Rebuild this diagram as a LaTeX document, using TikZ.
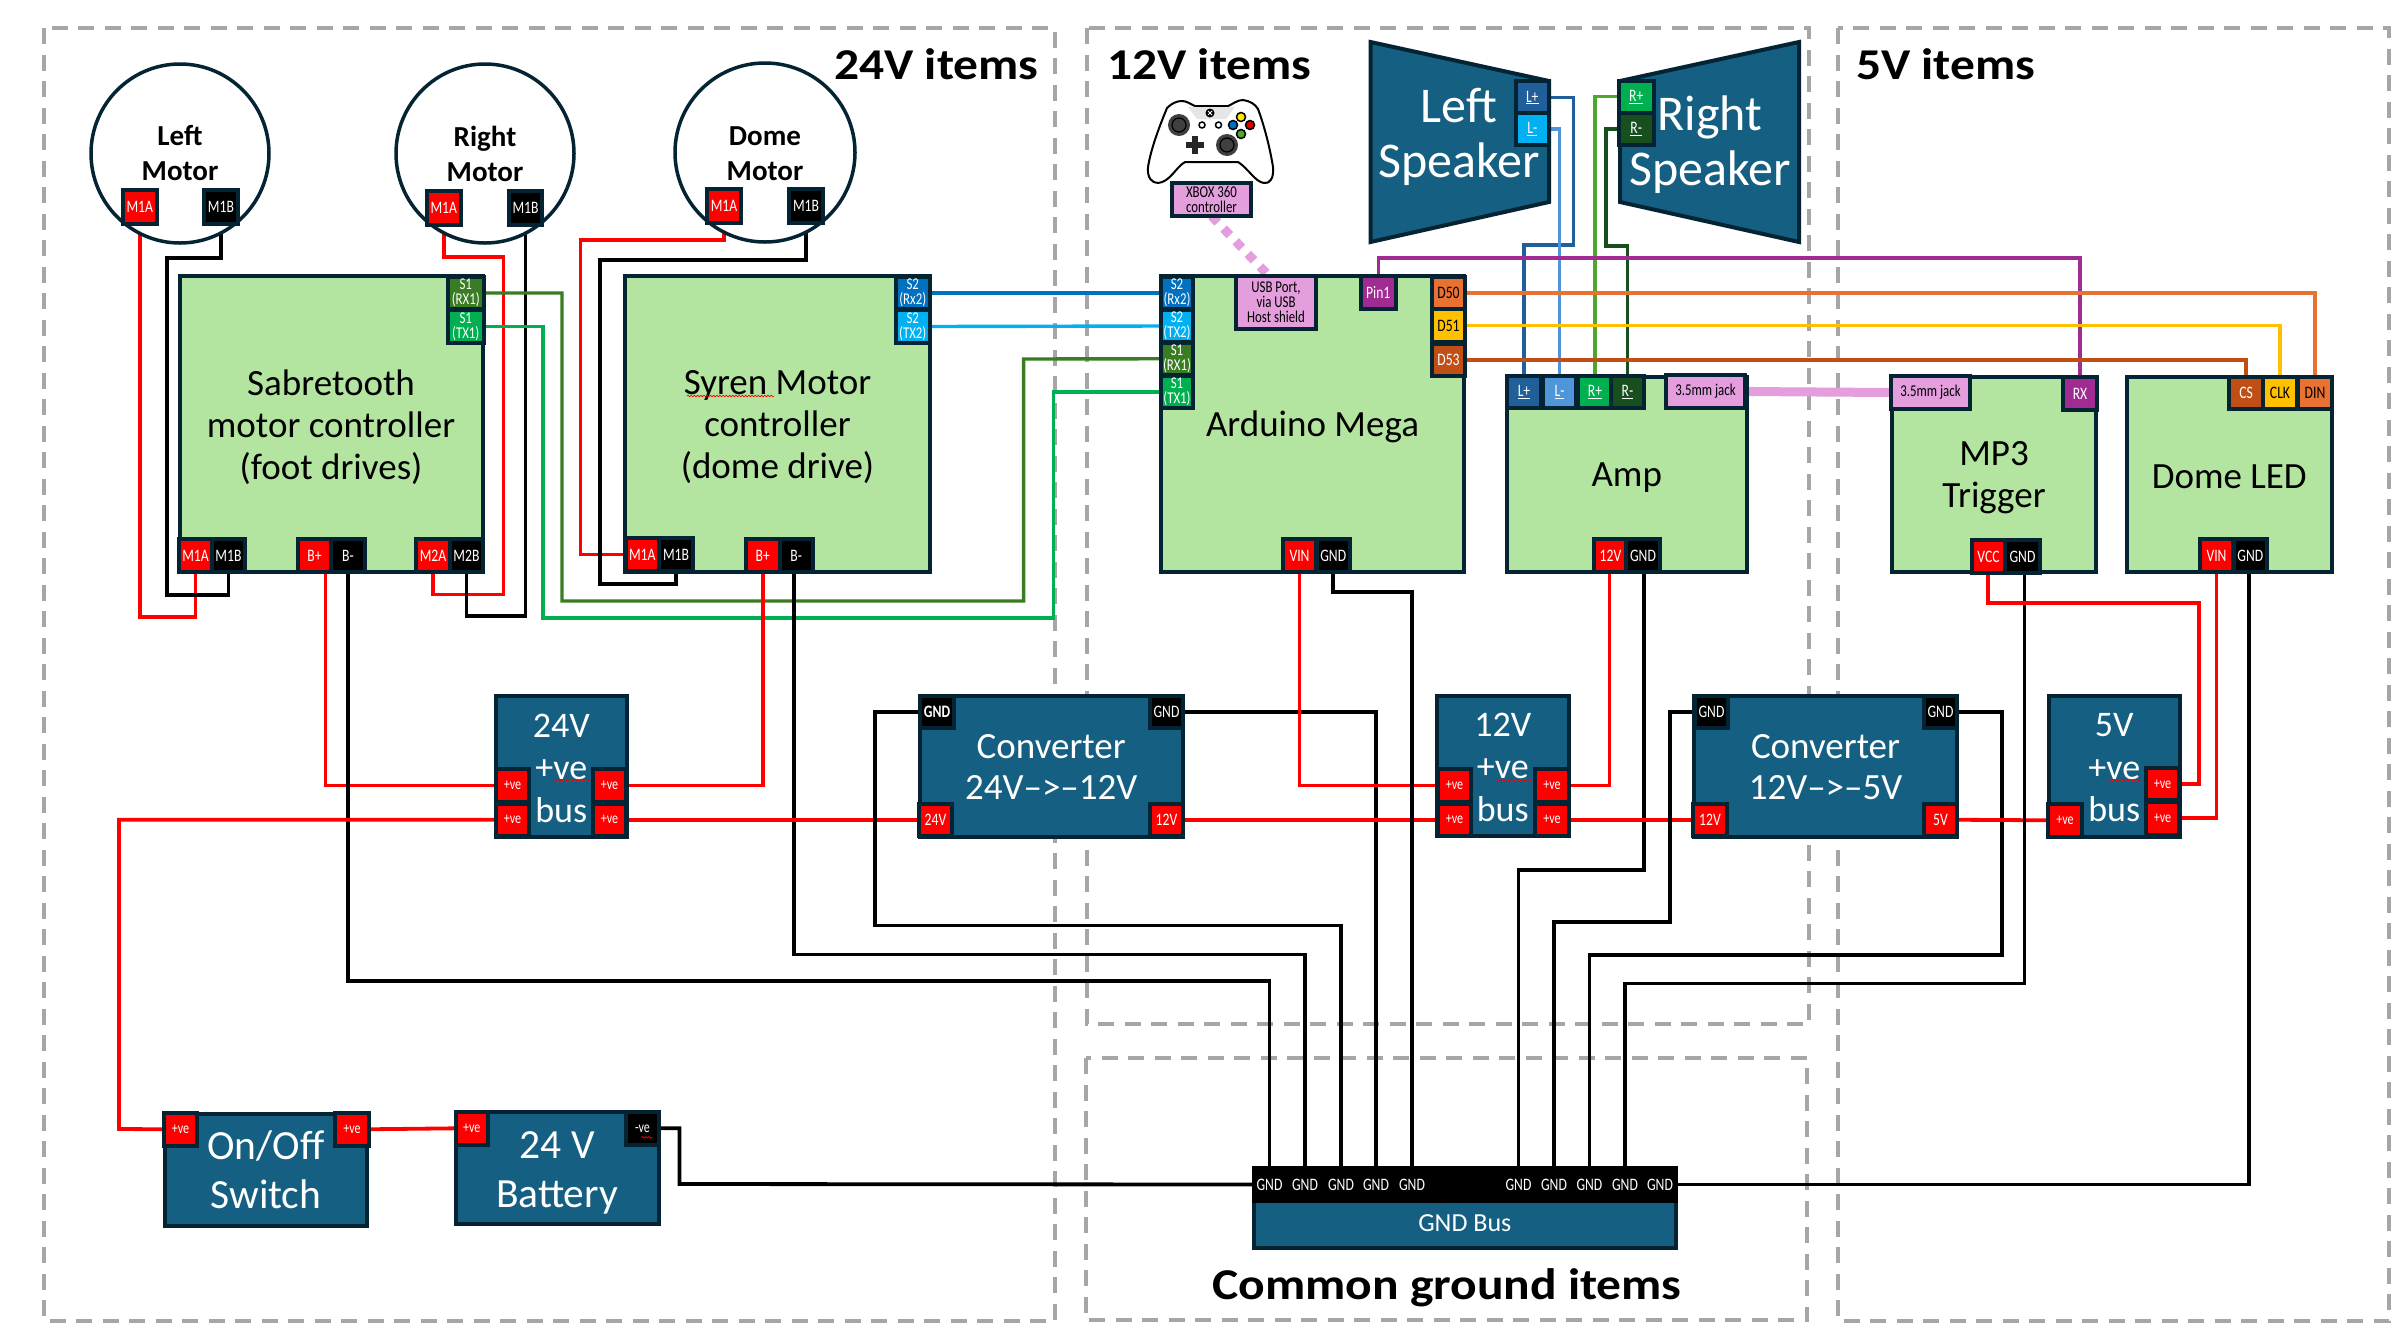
\documentclass[tikz,border=0pt]{standalone}
\usepackage{fontspec}
\setmainfont{Carlito}
\newfontfamily\ttl[FakeStretch=1.125]{Carlito}
\newfontfamily\pf[FakeStretch=.78]{Carlito}
\usetikzlibrary{decorations.pathmorphing,calc,shapes.geometric}
\definecolor{navy}{HTML}{042433}
\definecolor{bluefill}{HTML}{156082}
\definecolor{greenfill}{HTML}{B3E5A1}
\definecolor{pinkc}{HTML}{E49EDD}
\definecolor{purp}{HTML}{A02B93}
\definecolor{oran}{HTML}{E97132}
\definecolor{ambr}{HTML}{FFC000}
\definecolor{rust}{HTML}{C04F15}
\definecolor{dgreen}{HTML}{3A7C22}
\definecolor{mgreen}{HTML}{00B050}
\definecolor{vdgreen}{HTML}{174F1E}
\definecolor{sblue}{HTML}{0070C0}
\definecolor{cyanb}{HTML}{00B0F0}
\definecolor{lblue}{HTML}{215F9A}
\definecolor{mblue}{HTML}{4E95D9}
\definecolor{lgreen}{HTML}{4EA72E}
\definecolor{dashc}{HTML}{A6A6A6}
\newcommand\fa{\pf\fontsize{17.5}{19}\selectfont}
\newcommand\fb{\pf\fontsize{16.5}{15}\selectfont}
\newcommand\fc{\pf\fontsize{15.5}{14}\selectfont}
\newcommand\fbig{\fontsize{37}{42}\selectfont}
\newcommand\fconv{\fontsize{37}{41}\selectfont}
\newcommand\fbus{\fontsize{36}{42.5}\selectfont}
\newcommand\fsw{\fontsize{41.5}{49}\selectfont}
\newcommand\fspk{\fontsize{50}{55}\selectfont}
\newcommand\fmot{\fontsize{29}{35}\bfseries\selectfont}
\newcommand\ftit{\fontsize{44}{50}\ttl\bfseries\selectfont}
\newcommand\ppX{}\newcommand\ppY{}\newcommand\ppW{}\newcommand\ppH{}
% [text colour]{name}{x1}{y1}{x2}{y2}{fill}{font}{text}
\newcommand\pp[9][white]{%
  \pgfmathsetmacro\ppX{(#3+#5)/2}\pgfmathsetmacro\ppY{(#4+#6)/2}%
  \pgfmathsetmacro\ppW{#5-#3+4}\pgfmathsetmacro\ppH{#6-#4+4}%
  \node[portbox,fill=#7,text=#1,font=#8,minimum width=\ppW pt,minimum height=\ppH pt] (#2) at (\ppX,\ppY) {#9};}
% [text shift]{name}{x1}{y1}{x2}{y2}{style}{text}
\newcommand\bx[8][0]{%
  \pgfmathsetmacro\ppX{(#3+#5)/2}\pgfmathsetmacro\ppY{(#4+#6)/2}%
  \pgfmathsetmacro\ppW{#5-#3-4}\pgfmathsetmacro\ppH{#6-#4-4}%
  \node[#7,minimum width=\ppW pt,minimum height=\ppH pt] (#2) at (\ppX,\ppY) {};
  \node[#7,draw=none,fill=none,minimum width=0pt,minimum height=0pt,yshift=#1 pt] (#2t) at (#2.center) {#8};}
\newcommand\sqg[1]{\draw[squig] ([xshift=-1pt,yshift=-9pt]#1.center) -- ([xshift=10pt,yshift=-9pt]#1.center);}
\pgfdeclarelayer{dashlayer}\pgfdeclarelayer{wirelayer}
\pgfsetlayers{dashlayer,wirelayer,main}
\tikzset{
  portbox/.style={draw=navy,line width=4pt,inner sep=0pt,outer sep=0pt,align=center,rectangle},
  gbox/.style={draw=navy,line width=4pt,fill=greenfill,inner sep=0pt,outer sep=0pt,align=center,rectangle,text=black,font=\fbig},
  bbox/.style={draw=navy,line width=4pt,fill=bluefill,inner sep=0pt,outer sep=0pt,align=center,rectangle,text=white,font=\fbus},
  cbox/.style={bbox,font=\fconv},
  sbox/.style={bbox,font=\fsw},
  motor/.style={draw=navy,line width=3.5pt,fill=white,ellipse,inner sep=0pt,outer sep=0pt,align=center,text=black,font=\fmot},
  gndp/.style={fill=black,text=white,font=\fa,inner sep=0pt,outer sep=0pt,minimum width=35.5pt,minimum height=37pt},
  zone/.style={draw=dashc,line width=3.5pt,dash pattern=on 16pt off 10.5pt},
  title/.style={inner sep=0pt,text=black,font=\ftit},
  w/.style={line width=3.8pt,miter limit=10},
  wr/.style={w,draw=red},
  wk/.style={w,draw=black},
  sig/.style={line width=3.4pt,miter limit=10},
  squig/.style={draw=red,line width=.7pt,decorate,decoration={snake,amplitude=.8pt,segment length=3.2pt}},
}
\begin{document}
\begin{tikzpicture}[x=1pt,y=-1pt]
\useasboundingbox (0,0) rectangle (2408,1342);
\begin{pgfonlayer}{dashlayer}
  \fill[white] (0,0) rectangle (2408,1342);
  \draw[zone] (44,28) rectangle (1055,1321);
  \draw[zone] (1087,28) rectangle (1809,1024);
  \draw[zone] (1086,1058) rectangle (1807,1320);
  \draw[zone] (1838,28) rectangle (2389,1321);
\end{pgfonlayer}

\node[title,anchor=west] (t24) at (834,64) {24V items};
\node[title,anchor=west] (t12) at (1107,64) {12V items};
\node[title,anchor=west] (t5) at (1856,64) {5V items};
\node[title,anchor=center] (tg) at (1447,1288) {Common ground items};

% motors
\bx{lm}{89}{62}{271}{245}{motor}{Left\\Motor}
\bx{rm}{394}{62}{576}{245}{motor}{Right\\Motor}
\bx[-1]{dm}{673}{61}{857}{244}{motor}{Dome\\Motor}
\pp{lma}{125}{192}{154.5}{222}{red}{\fa}{M1A}
\pp{lmb}{206}{192}{236}{222}{black}{\fa}{M1B}
\pp{rma}{429}{193}{458.6}{223}{red}{\fa}{M1A}
\pp{rmb}{511}{193}{540}{223}{black}{\fa}{M1B}
\pp{dma}{709}{190.5}{739}{221}{red}{\fa}{M1A}
\pp{dmb}{791}{190.5}{821}{221}{black}{\fa}{M1B}

% Sabretooth
\bx[-3]{sab}{177.5}{274}{484.6}{573.5}{gbox}{Sabretooth\\motor controller\\(foot drives)}
\pp{sa1r}{450}{279}{481.5}{307}{dgreen}{\fb}{S1\\(RX1)}
\pp{sa1t}{450}{312}{481.5}{341}{mgreen}{\fb}{S1\\(TX1)}
\pp{sama}{181}{541}{210}{570}{red}{\fa}{M1A}
\pp{samb}{214}{541}{243}{570}{black}{\fa}{M1B}
\pp{sabp}{300}{541}{329}{570}{red}{\fa}{B+}
\pp{sabm}{333}{541}{363}{570}{black}{\fa}{B-}
\pp{sam2a}{418}{541}{448}{570}{red}{\fa}{M2A}
\pp{sam2b}{452}{541}{481}{570}{black}{\fa}{M2B}

% Syren
\bx[-3]{syr}{623}{274}{932}{573.5}{gbox}{Syren Motor\\controller\\(dome drive)}
\pp{sy2r}{897.5}{279}{928}{307}{sblue}{\fb}{S2\\(Rx2)}
\pp{sy2t}{897.5}{312}{928}{341}{cyanb}{\fb}{S2\\(TX2)}
\pp{syma}{627.5}{540}{657}{569}{red}{\fa}{M1A}
\pp{symb}{661}{540}{691}{569}{black}{\fa}{M1B}
\pp{sybp}{748}{541}{777.5}{570}{red}{\fa}{B+}
\pp{sybm}{781.5}{541}{811}{570}{black}{\fa}{B-}

% Arduino
\bx[-3.5]{ard}{1159}{274}{1466}{573.5}{gbox}{Arduino Mega}
\pp{a2r}{1163}{279}{1191}{307}{sblue}{\fb}{S2\\(Rx2)}
\pp{a2t}{1163}{312}{1191}{340}{cyanb}{\fb}{S2\\(TX2)}
\pp{a1r}{1163}{344.5}{1191}{373}{dgreen}{\fb}{S1\\(RX1)}
\pp{a1t}{1163}{378}{1191}{406}{mgreen}{\fb}{S1\\(TX1)}
\pp[black]{usb}{1238}{278}{1314}{327}{pinkc}{\fb}{USB Port,\\via USB\\Host shield}
\pp{pin1}{1363}{278}{1393.5}{307}{purp}{\fa}{Pin1}
\pp[black]{d50}{1434}{279}{1463}{307}{oran}{\fa}{D50}
\pp[black]{d51}{1434}{311}{1463}{340}{ambr}{\fa}{D51}
\pp{d53}{1434}{346}{1463}{374}{rust}{\fa}{D53}
\pp{avin}{1285}{541}{1314}{570}{red}{\fa}{VIN}
\pp{agnd}{1318.5}{541}{1348}{570}{black}{\fa}{GND}

% XBOX controller
\begin{scope}
  \draw[black,line width=2pt,fill=white,line join=round]
    (1167,108) .. controls (1172,103) and (1177,101) .. (1182,101)
    .. controls (1187,101) and (1190,104) .. (1195,106)
    -- (1228,106) .. controls (1233,104) and (1237,100) .. (1243,100)
    .. controls (1250,101) and (1255,104) .. (1258,109)
    .. controls (1264,125) and (1270,148) .. (1273,167)
    .. controls (1274,178) and (1270,184) .. (1264,183)
    .. controls (1255,182) and (1248,168) .. (1238,162)
    -- (1185,162) .. controls (1176,167) and (1170,182) .. (1158,183)
    .. controls (1152,183) and (1147,178) .. (1148,167)
    .. controls (1151,148) and (1160,125) .. (1167,108) -- cycle;
  \fill[gray!20] (1188,107) -- (1235,107) -- (1226,119) -- (1197,119) -- cycle;
  \fill[black] (1210,113) circle (4.5pt);
  \draw[white,line width=1pt] (1208,111) -- (1212,115) (1212,111) -- (1208,115);
  \foreach \p in {(1179,125),(1227,145)} {
    \fill[black!75] \p circle (11pt);
    \draw[black,line width=1.2pt] \p circle (7pt);
  }
  \draw[black!85,line width=5.5pt] (1186,145) -- (1204,145) (1195,136) -- (1195,154);
  \draw[black,line width=1.5pt,fill=yellow!90!orange] (1241,117) circle (4.5pt);
  \draw[black,line width=1.5pt,fill=sblue] (1233,125) circle (4.5pt);
  \draw[black,line width=1.5pt,fill=red!85!black] (1250,125) circle (4.5pt);
  \draw[black,line width=1.5pt,fill=lgreen] (1241,134) circle (4.5pt);
  \draw[black,line width=1.5pt,fill=white] (1202,125) circle (3pt);
  \draw[black,line width=1.5pt,fill=white] (1218.5,125) circle (3pt);
\end{scope}
\pp[black]{xbp}{1174}{184.5}{1249}{214}{pinkc}{\fb}{XBOX 360\\controller}

% speakers
\draw[draw=navy,line width=4pt,fill=bluefill,miter limit=10] (1370.5,42) -- (1549,81) -- (1549,202) -- (1370.5,242) -- cycle;
\draw[draw=navy,line width=4pt,fill=bluefill,miter limit=10] (1799,42) -- (1620,81) -- (1620,202) -- (1799,242) -- cycle;
\node[text=white,font=\fspk,align=center,inner sep=0pt] (ltxt) at (1459,137) {Left\\Speaker};
\node[text=white,font=\fspk,align=center,inner sep=0pt] (rtxt) at (1710,145) {Right\\Speaker};
\pp{slp}{1517.5}{83}{1547}{112}{lblue}{\fa}{\underline{L+}}
\pp{slm}{1517.5}{115}{1547}{143}{cyanb}{\fa}{\underline{L-}}
\pp{srp}{1621}{83}{1651.5}{110.5}{mgreen}{\fa}{\underline{R+}}
\pp{srm}{1621}{115}{1651.5}{143}{vdgreen}{\fa}{\underline{R-}}

% Amp
\bx[-3.5]{amp}{1505}{375}{1748.5}{573.5}{gbox}{Amp}
\pp{alp}{1509}{378}{1539}{406}{lblue}{\fa}{\underline{L+}}
\pp{alm}{1545}{378}{1574}{406}{mblue}{\fa}{\underline{L-}}
\pp{arp}{1580}{378}{1610}{406}{mgreen}{\fa}{\underline{R+}}
\pp{arm}{1613}{378}{1642}{406}{vdgreen}{\fa}{\underline{R-}}
\pp[black]{ajack}{1668}{377}{1743}{406}{pinkc}{\fb}{3.5mm jack}
\pp{a12}{1596}{541}{1625}{570}{red}{\fa}{12V}
\pp{amg}{1628}{541}{1658}{570}{black}{\fa}{GND}

% MP3
\bx[-3.5]{mp3}{1890}{375}{2098}{573.5}{gbox}{MP3\\Trigger}
\pp[black]{mjack}{1893}{378}{1968}{407}{pinkc}{\fb}{3.5mm jack}
\pp{mrx}{2065}{379}{2095}{408}{purp}{\fa}{RX}
\pp{mvcc}{1974}{542}{2003}{571}{red}{\fa}{VCC}
\pp{mgnd}{2007}{542}{2038}{571}{black}{\fa}{GND}

% Dome LED
\bx[-2]{led}{2125}{375}{2333.5}{573.5}{gbox}{Dome LED}
\pp{lcs}{2231}{379}{2261}{407}{rust}{\fa}{CS}
\pp[black]{lclk}{2265}{379}{2295}{407}{ambr}{\fa}{CLK}
\pp[black]{ldin}{2300}{379}{2330}{407}{oran}{\fa}{DIN}
\pp{lvin}{2202}{541}{2231}{570}{red}{\fa}{VIN}
\pp{lgnd}{2235.6}{541}{2265}{570}{black}{\fa}{GND}

% buses
\bx[-1.5]{b24}{494}{694}{628.5}{839}{bbox}{24V\\+ve\\bus}
\pp{b24a}{498}{771}{527}{800}{red}{\fc}{+ve}
\pp{b24b}{498}{805.5}{527}{834}{red}{\fc}{+ve}
\pp{b24c}{595}{771}{624}{800}{red}{\fc}{+ve}
\pp{b24d}{595}{805.5}{624}{834}{red}{\fc}{+ve}
\bx[-1.5]{b12}{1435}{694}{1570.5}{837.5}{bbox}{12V\\+ve\\bus}
\pp{b12a}{1440}{771}{1469}{800}{red}{\fc}{+ve}
\pp{b12b}{1440}{805.5}{1469}{834}{red}{\fc}{+ve}
\pp{b12c}{1537}{771}{1567}{800}{red}{\fc}{+ve}
\pp{b12d}{1537}{805.5}{1567}{834}{red}{\fc}{+ve}
\bx[-1.5]{b5}{2047}{694}{2181.5}{839}{bbox}{5V\\+ve\\bus}
\pp{b5b}{2050}{806}{2080}{834.6}{red}{\fc}{+ve}
\pp{b5c}{2148}{770}{2177}{798}{red}{\fc}{+ve}
\pp{b5d}{2148}{804}{2177}{832.5}{red}{\fc}{+ve}

% converters
\bx[-1]{c1}{917.5}{693.5}{1185}{839}{cbox}{Converter\\24V--\textgreater--12V}
\pp{c1gl}{922}{698}{952}{725.5}{black}{\fa\bfseries}{GND}
\pp{c1gr}{1152}{698}{1181}{725.5}{black}{\fa}{GND}
\pp{c1v}{921}{805.5}{950}{834}{red}{\fa}{24V}
\pp{c1o}{1152}{805.5}{1181}{834}{red}{\fa}{12V}
\bx[-1]{c2}{1692}{694}{1959}{839}{cbox}{Converter\\12V--\textgreater--5V}
\pp{c2gl}{1697}{698}{1726}{725.5}{black}{\fa}{GND}
\pp{c2gr}{1926}{698}{1955}{725.5}{black}{\fa}{GND}
\pp{c2v}{1695}{805.5}{1725}{834}{red}{\fa}{12V}
\pp{c2o}{1926}{805.5}{1955}{834}{red}{\fa}{5V}

% switch and battery
\bx{sw}{163}{1111.5}{369}{1228}{sbox}{On/Off\\Switch}
\pp{swa}{166}{1115}{195}{1143.5}{red}{\fc}{+ve}
\pp{swb}{337}{1115}{367}{1143.5}{red}{\fc}{+ve}
\bx[-5]{bat}{453.5}{1110}{660.6}{1226}{sbox}{24 V\\Battery}
\pp{batp}{457.5}{1114}{486}{1142.6}{red}{\fc}{+ve}
\pp{batm}{628}{1114}{657}{1142.6}{black}{\fc}{-ve}

% GND bus
\bx[1.5]{gbus}{1251.6}{1199}{1678}{1249.6}{bbox,font=\fontsize{26}{30}\selectfont}{GND Bus}
\fill[black] (1251.6,1166) rectangle (1678,1203);
\foreach \i/\x in {1/1269.5,2/1305,3/1341,4/1376,5/1412,6/1518.5,7/1554,8/1589.4,9/1625,10/1660}
  \node[gndp] (gnd\i) at (\x,1184.5) {GND};

% spell-check marks
\draw[squig] (687,396) -- (774,396);
\draw[squig] (554,780) -- (590,780);
\draw[squig] (1496,780) -- (1532,780);
\draw[squig] (2107,780) -- (2142,780);
\foreach \n in {b24a,b24b,b24c,b24d,b12a,b12b,b12c,b12d,b5b,b5c,b5d,swa,swb,batp,batm} { \sqg{\n} }

\begin{pgfonlayer}{wirelayer}
% motors
\draw[wr] (lma.south) |- (sama.south |- 0,617) -- (sama.south);
\draw[wk] (lmb.south) |- (167,258) |- (samb.south |- 0,595) -- (samb.south);
\draw[wr] (rma.south) |- (503.5,257) |- (sam2a.south |- 0,594.5) -- (sam2a.south);
\draw[wk] (rmb.south) |- (sam2b.south |- 0,616) -- (sam2b.south);
\draw[wr] (dma.south) |- (580.5,240) |- (syma.west);
\draw[wk] (dmb.south) |- (600,260) |- (symb.south |- 0,584) -- (symb.south);
% serial
\draw[sig,draw=dgreen] (sa1r.east) -| (562,601) -| (1023.6,359) -- (a1r.west);
\draw[sig,draw=mgreen] (sa1t.east) -| (543,618) -| (1053.7,392) -- (a1t.west);
\draw[sig,draw=sblue] (sy2r.east) -- (a2r.west);
\draw[sig,draw=cyanb] (sy2t.east) -- (a2t.west);
% power 24 V
\draw[wr] ([xshift=11pt]sabp.south) |- (b24a.west);
\draw[wk] (sabm.south) |- (gnd1.north |- 0,980.6) -- (gnd1.north);
\draw[wr] (sybp.south) |- (b24c.east);
\draw[wk] ([xshift=-2pt]sybm.south) |- (gnd2.north |- 0,954.5) -- (gnd2.north);
\draw[wr] (b24b.west) -| (119,1129) -- (swa.west);
\draw[wr] (b24d.east) -- (c1v.west);
\draw[wr] (swb.east) -- (batp.west);
\draw[wk] (batm.east) -| (679.5,1184) -- (gnd1.west);
% converter 1
\draw[wk] (c1gl.west) -| (874.6,925.5) -| (gnd3.north);
\draw[wk] (c1gr.east) -| (gnd4.north);
\draw[wr] (c1o.east) -- (b12b.west);
% arduino, amp
\draw[wr] (avin.south) |- (b12a.west);
\draw[wk] (agnd.south) |- (gnd5.north |- 0,592) -- (gnd5.north);
\draw[wr] ([xshift=-1pt]a12.south) |- (b12c.east);
\draw[wk] ([xshift=1pt]amg.south) |- (gnd6.north |- 0,870) -- (gnd6.north);
\draw[wr] (b12d.east) -- (c2v.west);
% converter 2
\draw[wk] (c2gl.west) -| (1670,921.7) -| (gnd7.north);
\draw[wk] (c2gr.east) -| (2002,955) -| (gnd8.north);
\draw[wr] (c2o.east) -- (b5b.west);
% 5 V
\draw[wk] ([xshift=2pt]mgnd.south) |- (gnd9.north |- 0,983.5) -- (gnd9.north);
\draw[wr] ([xshift=-.5pt]mvcc.south) |- (2199,603) |- (b5c.east);
\draw[wr] (lvin.south) |- (b5d.east);
\draw[wk] ([xshift=-1.5pt]lgnd.south) |- (gnd10.east);
% speakers
\draw[sig,draw=lblue] (slp.east) -| (1573.6,245) -| (alp.north);
\draw[sig,draw=mblue] (slm.east) -| (alm.north);
\draw[sig,draw=lgreen] (srp.west) -| (arp.north);
\draw[sig,draw=vdgreen] (srm.west) -| (1606,246) -| (arm.north);
% signals
\draw[sig,draw=purp] (pin1.north) |- (2080,258) -- (mrx.north);
\draw[sig,draw=oran] (d50.east) -| (ldin.north);
\draw[sig,draw=ambr] (d51.east) -| (lclk.north);
\draw[sig,draw=rust] (d53.east) -| (lcs.north);
\draw[line width=9pt,draw=pinkc] (ajack.east) -- (mjack.west);
\draw[line width=9pt,draw=pinkc,dash pattern=on 9pt off 8.5pt] (xbp.south) -- ([xshift=-7pt]usb.north);
\end{pgfonlayer}
\end{tikzpicture}
\end{document}
